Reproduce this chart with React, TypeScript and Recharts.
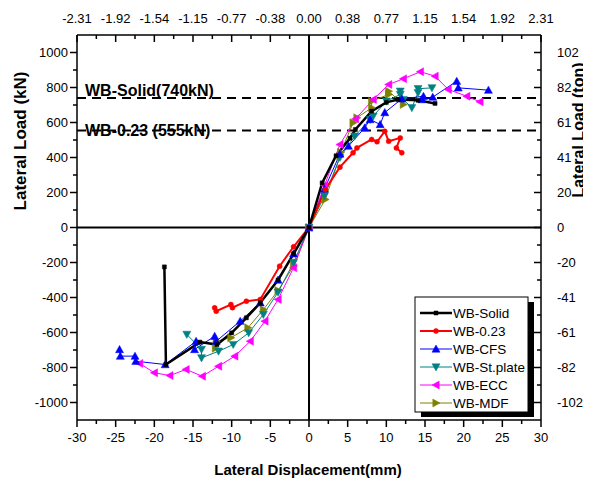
import React from "react";
import {
  LineChart, Line, XAxis, YAxis, ReferenceLine,
} from "recharts";

// displacement (mm) / lateral load (kN)
const solidX = [-18.7, -18.5, -14.1, -11.9, -10.0, -8.1, -6.3, -4.0, -2.0, 0, 1.7, 3.5, 5.3, 6.0, 8.1, 10.0, 11.5, 14.1, 16.3];
const solidY = [-225, -783, -655, -669, -602, -516, -430, -300, -150, 0, 255, 410, 510, 560, 665, 715, 731, 727, 709];

const w023X = [-12.2, -12.0, -10.1, -9.9, -8.1, -6.3, -3.8, -2.0, 0, 2.1, 4.0, 5.7, 6.2, 8.1, 8.8, 9.8, 10.3, 11.8, 11.3, 12.0];
const w023Y = [-459, -478, -440, -458, -421, -411, -221, -110, 0, 217, 345, 427, 455, 503, 490, 550, 493, 512, 455, 427];

const cfsX = [-24.5, -24.4, -22.5, -22.4, -18.6, -14.6, -14.8, -12.2, -12.0, -8.9, -6.3, -4.0, -2.0, 0, 2.0, 4.0, 5.1, 7.2, 7.9, 9.2, 9.8, 12.0, 14.8, 14.6, 16.0, 19.1, 19.3, 23.2];
const cfsY = [-697, -735, -735, -764, -783, -650, -697, -621, -650, -535, -430, -300, -150, 0, 220, 420, 465, 570, 617, 589, 657, 735, 750, 731, 745, 836, 798, 785];

const plateX = [-15.8, -13.9, -13.9, -11.7, -9.8, -7.8, -5.9, -4.0, -2.0, 0, 2.0, 4.0, 5.9, 7.9, 8.3, 10.0, 11.8, 11.8, 12.2, 13.3, 14.1, 14.1, 15.9];
const plateY = [-611, -697, -745, -707, -669, -602, -497, -370, -200, 0, 180, 400, 522, 617, 636, 722, 760, 779, 731, 684, 770, 793, 798];

const eccX = [-21.9, -20.0, -18.0, -15.9, -13.8, -11.7, -9.6, -7.6, -5.7, -4.0, -2.0, 0, 2.0, 4.0, 6.0, 8.3, 10.3, 12.2, 14.4, 16.3, 18.0, 20.4, 22.1];
const eccY = [-777, -830, -846, -811, -850, -793, -735, -650, -535, -411, -230, 0, 240, 474, 620, 731, 817, 850, 890, 865, 789, 750, 718];

const mdfX = [-12.1, -12.0, -10.1, -7.9, -5.9, -4.0, -2.0, 0, 2.1, 4.0, 4.1, 5.7, 6.2, 8.1, 8.1, 10.3, 10.3, 12.2];
const mdfY = [-690, -650, -630, -573, -469, -360, -220, 0, 160, 407, 430, 598, 627, 684, 722, 760, 779, 703];

const xTicks = [-30, -27.5, -25, -22.5, -20, -17.5, -15, -12.5, -10, -7.5, -5, -2.5, 0, 2.5, 5, 7.5, 10, 12.5, 15, 17.5, 20, 22.5, 25, 27.5, 30];
const yTicks = [-1000, -900, -800, -700, -600, -500, -400, -300, -200, -100, 0, 100, 200, 300, 400, 500, 600, 700, 800, 900, 1000];

const yieldSolid = 740;
const yield023 = 555;

const pts = (xs: number[], ys: number[]) => xs.map((x, i) => ({ x, y: ys[i] }));

const FONT = "'Liberation Sans', Arial, sans-serif";

function markerPath(shape: string, cx: number, cy: number, s: number) {
  switch (shape) {
    case "up":
      return `M${cx},${cy - s} L${cx + s},${cy + s * 0.8} L${cx - s},${cy + s * 0.8} Z`;
    case "down":
      return `M${cx},${cy + s} L${cx + s},${cy - s * 0.8} L${cx - s},${cy - s * 0.8} Z`;
    case "left":
      return `M${cx - s},${cy} L${cx + s * 0.8},${cy - s} L${cx + s * 0.8},${cy + s} Z`;
    case "right":
      return `M${cx + s},${cy} L${cx - s * 0.8},${cy - s} L${cx - s * 0.8},${cy + s} Z`;
    case "square":
      return `M${cx - s},${cy - s} h${2 * s} v${2 * s} h${-2 * s} Z`;
    default:
      return `M${cx - s},${cy} a${s},${s} 0 1,0 ${2 * s},0 a${s},${s} 0 1,0 ${-2 * s},0`;
  }
}

const makeDot = (shape: string, color: string, s: number) => (props: any) => {
  const { cx, cy, key } = props;
  if (cx == null || cy == null) return <g key={key} />;
  return <path key={key} d={markerPath(shape, cx, cy, s)} fill={color} stroke={color} strokeWidth={0.5} />;
};

const series = [
  { name: "WB-Solid", data: pts(solidX, solidY), color: "#000000", width: 2.5, shape: "square", size: 2 },
  { name: "WB-0.23", data: pts(w023X, w023Y), color: "#ff0000", width: 2, shape: "circle", size: 2.5 },
  { name: "WB-CFS", data: pts(cfsX, cfsY), color: "#0000ff", width: 1, shape: "up", size: 4 },
  { name: "WB-St.plate", data: pts(plateX, plateY), color: "#008080", width: 1, shape: "down", size: 4 },
  { name: "WB-ECC", data: pts(eccX, eccY), color: "#ff00ff", width: 1, shape: "left", size: 4 },
  { name: "WB-MDF", data: pts(mdfX, mdfY), color: "#808000", width: 1, shape: "right", size: 4 },
];

const LeftTick = ({ x, y, payload }: any) => {
  const v = payload.value;
  const major = v % 200 === 0;
  return (
    <g>
      <line x1={x} x2={x - (major ? 7 : 4)} y1={y} y2={y} stroke="#000" strokeWidth={1.5} />
      {major && (
        <text x={x - 9} y={y + 4.5} textAnchor="end" fontSize={13} fontFamily={FONT} fill="#000">{v}</text>
      )}
    </g>
  );
};

const RightTick = ({ x, y, payload }: any) => {
  const v = payload.value;
  const major = v % 200 === 0;
  return (
    <g>
      <line x1={x} x2={x - (major ? 7 : 4)} y1={y} y2={y} stroke="#000" strokeWidth={1.5} />
      {major && (
        <text x={x + 16} y={y + 4.5} textAnchor="start" fontSize={13} fontFamily={FONT} fill="#000">
          {(v / 9.81).toFixed(0)}
        </text>
      )}
    </g>
  );
};

const BottomTick = ({ x, y, payload }: any) => {
  const v = payload.value;
  const major = v % 5 === 0;
  return (
    <g>
      <line x1={x} x2={x} y1={y} y2={y + (major ? 7 : 4)} stroke="#000" strokeWidth={1.5} />
      {major && (
        <text x={x} y={y + 22} textAnchor="middle" fontSize={13} fontFamily={FONT} fill="#000">{v}</text>
      )}
    </g>
  );
};

const TopTick = ({ x, y, payload }: any) => {
  const v = payload.value;
  const major = v % 5 === 0;
  return (
    <g>
      <line x1={x} x2={x} y1={y} y2={y + (major ? 7 : 4)} stroke="#000" strokeWidth={1.5} />
      {major && (
        <text x={x} y={y - 12} textAnchor="middle" fontSize={13} fontFamily={FONT} fill="#000">
          {(v / 13).toFixed(2)}
        </text>
      )}
    </g>
  );
};

export default function App() {
  const W = 575;
  const H = 472;
  return (
    <div style={{ position: "relative", width: W, height: H }}>
      <LineChart width={W} height={H} margin={{ top: 0, right: 0, left: 0, bottom: 0 }}>
        <XAxis
          xAxisId="bottom" dataKey="x" type="number" orientation="bottom" height={60}
          domain={[-30, 30]} ticks={xTicks} interval={0} tickSize={0} tickMargin={0}
          tickLine={false} tick={<BottomTick />} axisLine={{ stroke: "#000", strokeWidth: 1.5 }}
          allowDataOverflow
        />
        <XAxis
          xAxisId="top" dataKey="x" type="number" orientation="top" height={27}
          domain={[-30, 30]} ticks={xTicks} interval={0} tickSize={0} tickMargin={0}
          tickLine={false} tick={<TopTick />} axisLine={{ stroke: "#000", strokeWidth: 1.5 }}
          allowDataOverflow
        />
        <YAxis
          yAxisId="left" type="number" orientation="left" width={69}
          domain={[-1100, 1100]} ticks={yTicks} interval={0} tickSize={0} tickMargin={0}
          tickLine={false} tick={<LeftTick />} axisLine={{ stroke: "#000", strokeWidth: 1.5 }}
          allowDataOverflow
        />
        <YAxis
          yAxisId="right" type="number" orientation="right" width={42}
          domain={[-1100, 1100]} ticks={yTicks} interval={0} tickSize={0} tickMargin={0}
          tickLine={false} tick={<RightTick />} axisLine={{ stroke: "#000", strokeWidth: 1.5 }}
          allowDataOverflow
        />
        <ReferenceLine xAxisId="bottom" yAxisId="left" x={0} stroke="#000" strokeWidth={2} />
        <ReferenceLine xAxisId="bottom" yAxisId="left" y={0} stroke="#000" strokeWidth={2} />
        <ReferenceLine
          xAxisId="bottom" yAxisId="left" y={yieldSolid} stroke="#000" strokeWidth={2} strokeDasharray="9 6"
          label={{ value: "WB-Solid(740kN)", position: "insideLeft", offset: 8, dy: -8, fontSize: 16, fontWeight: "bold", fill: "#000", fontFamily: FONT }}
        />
        <ReferenceLine
          xAxisId="bottom" yAxisId="left" y={yield023} stroke="#000" strokeWidth={2} strokeDasharray="9 6"
          label={{ value: "WB-0.23 (555kN)", position: "insideLeft", offset: 8, dy: 0, fontSize: 16, fontWeight: "bold", fill: "#000", fontFamily: FONT }}
        />
        {[...series].reverse().map((s) => (
          <Line
            key={s.name} xAxisId="bottom" yAxisId="left" data={s.data} dataKey="y" name={s.name}
            type="linear" stroke={s.color} strokeWidth={s.width}
            dot={makeDot(s.shape, s.color, s.size)} activeDot={false} isAnimationActive={false}
          />
        ))}
      </LineChart>

      <svg width={W} height={H} style={{ position: "absolute", left: 0, top: 0, pointerEvents: "none", overflow: "visible" }}>
        <text transform="translate(18,133) rotate(-90)" textAnchor="middle" fontSize={17} fontWeight="bold" fontFamily={FONT}>
          Lateral Load (kN)
        </text>
        <text transform="translate(576,122) rotate(-90)" textAnchor="middle" fontSize={16} fontWeight="bold" fontFamily={FONT}>
          Lateral Load (ton)
        </text>
        <text x={300} y={467} textAnchor="middle" fontSize={15} fontWeight="bold" fontFamily={FONT}>
          Lateral Displacement(mm)
        </text>
        <g transform="translate(407,289)">
          <rect x={6} y={5} width={113} height={115} fill="#000" />
          <rect x={0} y={0} width={113} height={115} fill="#fff" stroke="#000" strokeWidth={1} />
          {series.map((s, i) => {
            const cy = 16 + i * 18;
            return (
              <g key={s.name}>
                <line x1={5} x2={37} y1={cy} y2={cy} stroke={s.color} strokeWidth={s.width} />
                <path d={markerPath(s.shape, 21, cy, s.size)} fill={s.color} stroke={s.color} strokeWidth={0.5} />
                <text x={38} y={cy + 5} fontSize={13.5} fontFamily={FONT} fill="#000">{s.name}</text>
              </g>
            );
          })}
        </g>
      </svg>
    </div>
  );
}
